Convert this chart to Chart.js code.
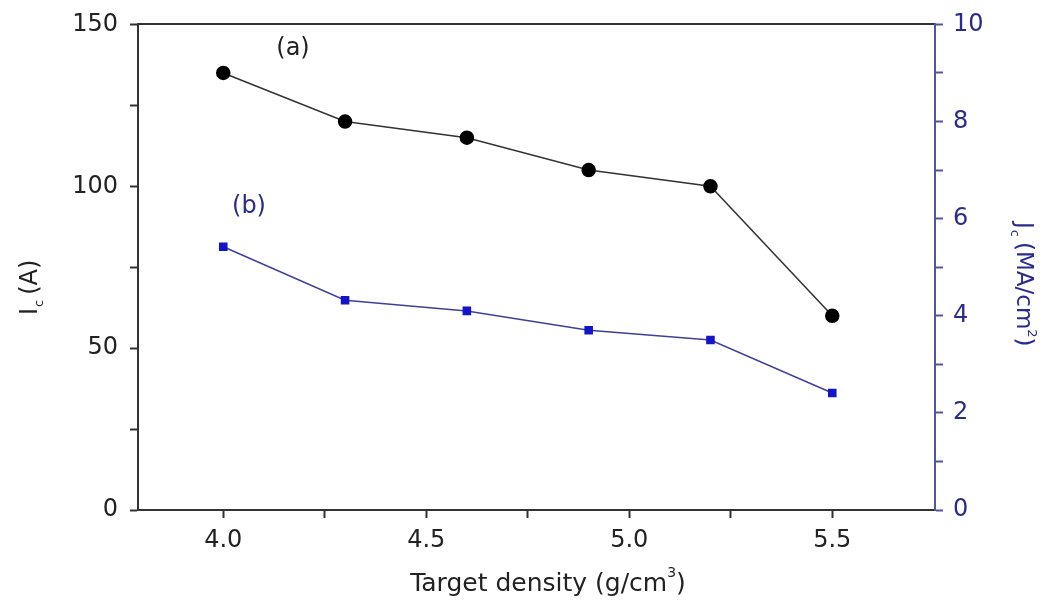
<!DOCTYPE html>
<html>
<head>
<meta charset="utf-8">
<script src="https://cdn.jsdelivr.net/npm/chart.js@4/dist/chart.umd.min.js"></script>
<style>
  html, body { margin: 0; padding: 0; background: #fff; overflow: hidden; }
  #wrap { width: 1043px; height: 605px; margin-top: -2px; }
  #chart { display: block; }
</style>
</head>
<body>
<div id="wrap"><canvas id="chart" width="1043" height="605"></canvas></div>
<script>
// target density (g/cm3)
const density = [4.0, 4.3, 4.6, 4.9, 5.2, 5.5];
// (a) critical current Ic (A), left axis
const icValues = [135, 120, 115, 105, 100, 60];
// (b) critical current density Jc (MA/cm2), right axis
const jcValues = [5.42, 4.32, 4.1, 3.7, 3.5, 2.41];

const xTicks = [4.0, 4.25, 4.5, 4.75, 5.0, 5.25, 5.5];
const xLabels = ["4.0", "4.5", "5.0", "5.5"];
const icTicks = [0, 50, 100, 150];
const jcTicks = [0, 2, 4, 6, 8, 10];

const FONT = "'DejaVu Sans', sans-serif";
const navy = "#2b2b8c";
const navyAxis = "#55559f";

const toPoints = (xs, ys) => xs.map((x, i) => ({ x: x, y: ys[i] }));

// axis titles with sub/superscripts, plus the (a) / (b) tags
const textPlugin = {
  id: "texts",
  afterDraw(chart) {
    const ctx = chart.ctx;
    ctx.save();
    ctx.translate(0, 2); // canvas sits 2px above the page top
    ctx.textBaseline = "alphabetic";
    ctx.textAlign = "left";

    // left title: I_c (A)
    ctx.save();
    ctx.translate(37, 315);
    ctx.rotate(-Math.PI / 2);
    ctx.fillStyle = "#222";
    ctx.font = "24px " + FONT;
    let x = 0;
    ctx.fillText("I", x, 0); x += ctx.measureText("I").width + 1;
    ctx.font = "13px " + FONT;
    ctx.fillText("c", x, 6); x += ctx.measureText("c").width + 5;
    ctx.font = "24px " + FONT;
    ctx.fillText("(A)", x, 0);
    ctx.restore();

    // right title: J_c (MA/cm^2)
    ctx.save();
    ctx.translate(1017, 222);
    ctx.rotate(Math.PI / 2);
    ctx.fillStyle = navy;
    ctx.font = "23px " + FONT;
    x = 0;
    ctx.fillText("J", x, 0); x += ctx.measureText("J").width + 1;
    ctx.font = "13px " + FONT;
    ctx.fillText("c", x, 6); x += ctx.measureText("c").width + 5;
    ctx.font = "23px " + FONT;
    ctx.fillText("(MA/cm", x, 0); x += ctx.measureText("(MA/cm").width;
    ctx.font = "13px " + FONT;
    ctx.fillText("2", x, -11); x += ctx.measureText("2").width;
    ctx.font = "23px " + FONT;
    ctx.fillText(")", x, 0);
    ctx.restore();

    // bottom title: Target density (g/cm^3)
    ctx.fillStyle = "#222";
    ctx.font = "25px " + FONT;
    const t1 = "Target density (g/cm";
    const w1 = ctx.measureText(t1).width;
    ctx.font = "14px " + FONT;
    const w2 = ctx.measureText("3").width;
    ctx.font = "25px " + FONT;
    const w3 = ctx.measureText(")").width;
    const bx = 548 - (w1 + w2 + w3) / 2;
    ctx.fillText(t1, bx, 591);
    ctx.font = "14px " + FONT;
    ctx.fillText("3", bx + w1, 577);
    ctx.font = "25px " + FONT;
    ctx.fillText(")", bx + w1 + w2, 591);

    // series tags
    ctx.textAlign = "center";
    ctx.font = "24px " + FONT;
    ctx.fillStyle = "#222";
    ctx.fillText("(a)", 293, 55);
    ctx.fillStyle = navy;
    ctx.fillText("(b)", 249, 213);
    ctx.restore();
  }
};

new Chart(document.getElementById("chart"), {
  type: "scatter",
  data: {
    datasets: [
      {
        label: "Ic",
        data: toPoints(density, icValues),
        yAxisID: "y",
        showLine: true,
        borderColor: "#333",
        borderWidth: 1.5,
        pointStyle: "circle",
        pointRadius: 6.5,
        pointBackgroundColor: "#000",
        pointBorderColor: "#000",
        order: 1
      },
      {
        label: "Jc",
        data: toPoints(density, jcValues),
        yAxisID: "y2",
        showLine: true,
        borderColor: "#40409a",
        borderWidth: 1.5,
        pointStyle: "rect",
        pointRadius: 5,
        pointBackgroundColor: "#1414c8",
        pointBorderColor: "#1414c8",
        order: 2
      }
    ]
  },
  options: {
    responsive: false,
    animation: false,
    events: [],
    layout: { padding: 0 },
    plugins: {
      legend: { display: false },
      tooltip: { enabled: false }
    },
    scales: {
      x: {
        type: "linear",
        position: "bottom",
        min: 3.79,
        max: 5.753,
        afterBuildTicks: (s) => { s.ticks = xTicks.map(v => ({ value: v })); },
        afterFit: (s) => { s.height = 93; },
        border: { color: "#333", width: 2 },
        grid: { drawOnChartArea: false, tickLength: 8, tickColor: "#333", tickWidth: 2 },
        ticks: {
          color: "#222",
          font: { family: FONT, size: 24 },
          padding: 8,
          maxRotation: 0,
          autoSkip: false,
          callback: (v) => {
            const i = [4.0, 4.5, 5.0, 5.5].indexOf(Math.round(v * 100) / 100);
            return i >= 0 ? xLabels[i] : "";
          }
        }
      },
      xTop: {
        type: "linear",
        position: "top",
        min: 3.79,
        max: 5.753,
        afterFit: (s) => { s.height = 24; },
        border: { color: "#333", width: 2 },
        grid: { display: false, drawTicks: false },
        ticks: { display: false }
      },
      y: {
        type: "linear",
        position: "left",
        min: 0,
        max: 150,
        afterBuildTicks: (s) => {
          s.ticks = [0, 25, 50, 75, 100, 125, 150].map(v => ({ value: v }));
        },
        afterFit: (s) => { s.width = 138; },
        border: { color: "#333", width: 2 },
        grid: { drawOnChartArea: false, tickLength: 8, tickColor: "#333", tickWidth: 2 },
        ticks: {
          color: "#222",
          font: { family: FONT, size: 24 },
          padding: 12,
          autoSkip: false,
          callback: (v) => icTicks.includes(v) ? String(v) : ""
        }
      },
      y2: {
        type: "linear",
        position: "right",
        min: 0,
        max: 10,
        afterBuildTicks: (s) => {
          s.ticks = [0, 1, 2, 3, 4, 5, 6, 7, 8, 9, 10].map(v => ({ value: v }));
        },
        afterFit: (s) => { s.width = 108; },
        border: { color: navyAxis, width: 2 },
        grid: { drawOnChartArea: false, tickLength: 8, tickColor: navyAxis, tickWidth: 2 },
        ticks: {
          color: navy,
          font: { family: FONT, size: 24 },
          padding: 10,
          autoSkip: false,
          callback: (v) => jcTicks.includes(v) ? String(v) : ""
        }
      }
    }
  },
  plugins: [textPlugin]
});
</script>
</body>
</html>
